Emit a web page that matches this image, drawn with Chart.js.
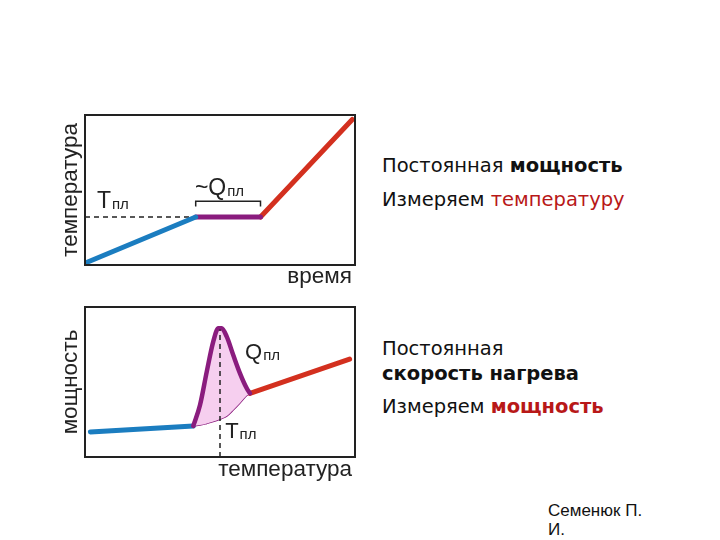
<!DOCTYPE html>
<html>
<head>
<meta charset="utf-8">
<script src="https://cdn.jsdelivr.net/npm/chart.js@4"></script>
<style>
  html, body { margin: 0; padding: 0; background: #fff; }
  #slide { position: relative; width: 720px; height: 540px; overflow: hidden; }
  .box { position: absolute; left: 0; width: 375px; height: 200px; }
  .txt { position: absolute; left: 382px; font-family: "DejaVu Sans", sans-serif; font-size: 19.5px; line-height: 19.5px; color: #111; white-space: nowrap; }
  .red { color: #b81818; }
  .author { position: absolute; left: 548px; font-family: "Liberation Sans", Arial, sans-serif; font-size: 17px; line-height: 17px; color: #111; }
</style>
</head>
<body>
<div id="slide">
  <div class="box" style="top:95px"><canvas id="chart1"></canvas></div>
  <div class="box" style="top:287px"><canvas id="chart2"></canvas></div>

  <div class="txt" style="top:156px">Постоянная <b>мощность</b></div>
  <div class="txt" style="top:190px">Измеряем <span class="red">температуру</span></div>
  <div class="txt" style="top:339px">Постоянная</div>
  <div class="txt" style="top:364px"><b>скорость нагрева</b></div>
  <div class="txt" style="top:397px">Измеряем <b class="red">мощность</b></div>

  <div class="author" style="top:502px">Семенюк П.</div>
  <div class="author" style="top:521px">И.</div>
</div>

<script>
// --- график 1: постоянная мощность, температура от времени ---
const t1Solid = [1, 41];
const T1Solid = [2, 32];
const t1Melt = [41, 65];
const T1Melt = [32, 32];
const t1Liquid = [65, 99];
const T1Liquid = [32, 97];
const T1dashX = [0, 41];
const T1dashY = [32, 32];
const bracketX = [41, 41, 65, 65];
const bracketY = [39, 42.5, 42.5, 39];

// --- график 2: постоянная скорость нагрева, мощность от температуры ---
const T2Solid = [2, 40.1];
const P2Solid = [16.7, 20.7];
const T2Peak = [40.1, 42.6, 45.1, 47.5, 49.4, 50.6, 52.5, 54.9, 57.4, 59.9, 61.1];
const P2Peak = [20.7, 34.7, 56.9, 76.9, 85.8, 85.8, 80.2, 68, 55.8, 45.8, 42.4];
const P2Base = [20.7, 21.3, 22.4, 23.6, 24.8, 25.6, 27.3, 31.3, 36, 41, 42.4];
const T2Liquid = [61.1, 98];
const P2Liquid = [42.4, 65.3];
const T2dashX = [50, 50];
const T2dashY = [0, 85];

const BLUE = '#1b7dc0';
const PURPLE = '#8a1c7e';
const RED = '#d3301f';
const PINK = '#f6cfef';
const LABEL_FONT = '"Liberation Sans", Arial, sans-serif';

function pts(xs, ys) {
    return xs.map((v, i) => ({ x: v, y: ys[i] }));
}

function line(xs, ys, color, width, extra) {
    return Object.assign({
        data: pts(xs, ys),
        borderColor: color,
        borderWidth: width,
        borderCapStyle: 'round',
        pointRadius: 0,
        fill: false,
        tension: 0
    }, extra || {});
}

// рамка, подписи осей и метки
const decor = {
    id: 'decor',
    afterDraw(chart, args, opts) {
        const { ctx, chartArea: a, scales } = chart;
        ctx.save();
        ctx.strokeStyle = '#222';
        ctx.lineWidth = 2;
        ctx.strokeRect(a.left, a.top, a.width, a.height);

        ctx.fillStyle = '#222';
        ctx.font = '22.5px ' + LABEL_FONT;
        ctx.textBaseline = 'alphabetic';
        ctx.textAlign = 'right';
        ctx.fillText(opts.xTitle, a.right - 3, a.bottom + opts.xTitleGap);

        ctx.save();
        ctx.translate(a.left - 8, (a.top + a.bottom) / 2);
        ctx.rotate(-Math.PI / 2);
        ctx.textAlign = 'center';
        ctx.fillText(opts.yTitle, 0, 0);
        ctx.restore();

        ctx.textAlign = 'left';
        (opts.labels || []).forEach(l => {
            const px = scales.x.getPixelForValue(l.x);
            const py = scales.y.getPixelForValue(l.y);
            ctx.font = l.size + 'px ' + LABEL_FONT;
            ctx.fillText(l.main, px, py);
            const w = ctx.measureText(l.main).width;
            ctx.font = '15px ' + LABEL_FONT;
            ctx.fillText(l.sub, px + w + 1, py + 1);
        });
        ctx.restore();
    }
};

const hiddenScales = {
    x: { type: 'linear', min: 0, max: 100, display: false },
    y: { type: 'linear', min: 0, max: 100, display: false }
};

const dashed = { borderDash: [5, 4], borderCapStyle: 'butt' };

new Chart(document.getElementById('chart1'), {
    type: 'line',
    data: {
        datasets: [
            line(t1Solid, T1Solid, BLUE, 5, { order: 1 }),
            line(t1Melt, T1Melt, PURPLE, 5, { order: 1 }),
            line(t1Liquid, T1Liquid, RED, 5, { order: 1 }),
            line(T1dashX, T1dashY, '#222', 1.5, Object.assign({ order: 3 }, dashed)),
            line(bracketX, bracketY, '#222', 1.5, { order: 2, borderCapStyle: 'butt' })
        ]
    },
    options: {
        responsive: true,
        maintainAspectRatio: false,
        animation: false,
        layout: { padding: { left: 85, right: 20, top: 20, bottom: 30 } },
        scales: hiddenScales,
        plugins: {
            legend: { display: false },
            tooltip: { enabled: false },
            decor: {
                xTitle: 'время',
                yTitle: 'температура',
                xTitleGap: 18,
                labels: [
                    { main: 'T', sub: 'пл', x: 4.4, y: 38, size: 23 },
                    { main: '~Q', sub: 'пл', x: 40.7, y: 46.7, size: 23 }
                ]
            }
        }
    },
    plugins: [decor]
});

new Chart(document.getElementById('chart2'), {
    type: 'line',
    data: {
        datasets: [
            line(T2Peak, P2Peak, PURPLE, 4.5, {
                order: 1,
                cubicInterpolationMode: 'monotone',
                fill: { target: 1 },
                backgroundColor: PINK
            }),
            line(T2Peak, P2Base, PURPLE, 1.5, { order: 2, cubicInterpolationMode: 'monotone' }),
            line(T2Solid, P2Solid, BLUE, 5, { order: 1 }),
            line(T2Liquid, P2Liquid, RED, 5, { order: 1 }),
            line(T2dashX, T2dashY, '#222', 1.5, Object.assign({ order: 0 }, dashed))
        ]
    },
    options: {
        responsive: true,
        maintainAspectRatio: false,
        animation: false,
        layout: { padding: { left: 85, right: 20, top: 20, bottom: 30 } },
        scales: hiddenScales,
        plugins: {
            legend: { display: false },
            tooltip: { enabled: false },
            decor: {
                xTitle: 'температура',
                yTitle: 'мощность',
                xTitleGap: 19,
                labels: [
                    { main: 'Q', sub: 'пл', x: 59.3, y: 65.3, size: 22 },
                    { main: 'T', sub: 'пл', x: 51.9, y: 12.7, size: 22 }
                ]
            }
        }
    },
    plugins: [decor]
});
</script>
</body>
</html>
